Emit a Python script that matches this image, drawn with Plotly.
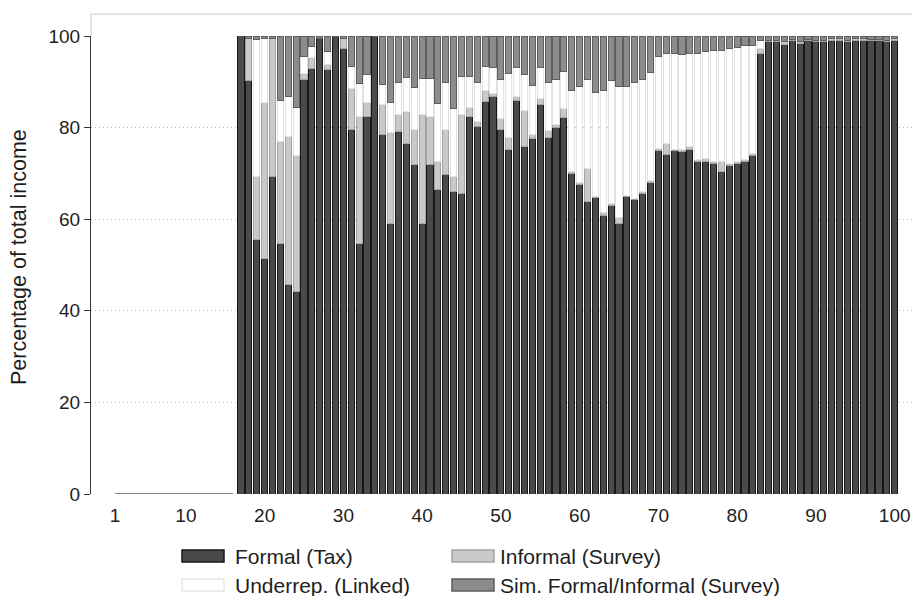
import plotly.graph_objects as go

# Income composition by percentile (share of total income, %)
percentile = list(range(1, 101))

formal = [0.0] * 16 + [
    100.0, 90.2, 55.5, 51.4, 69.3, 54.7, 45.8, 44.2, 90.4, 92.8,
    99.5, 92.6, 99.8, 97.3, 79.5, 54.6, 82.4, 100.0, 78.5, 59.1,
    79.1, 76.6, 72.0, 59.1, 72.0, 66.4, 69.7, 66.0, 65.7, 82.4,
    80.3, 85.7, 86.8, 79.5, 75.3, 86.0, 75.8, 77.7, 85.1, 77.8,
    80.0, 82.2, 70.0, 67.5, 63.8, 64.7, 60.8, 63.1, 59.1, 64.9,
    64.2, 65.7, 68.1, 75.1, 74.2, 74.9, 74.7, 75.3, 72.6, 72.7,
    72.2, 70.4, 71.8, 72.2, 72.7, 74.0, 96.2, 98.8, 98.8, 98.2,
    99.0, 98.4, 99.0, 98.8, 98.8, 99.1, 99.1, 98.8, 99.1, 99.1,
    99.0, 99.0, 98.8, 99.1,
]

informal = [0.0] * 16 + [
    0.0, 9.3, 13.8, 34.1, 30.2, 22.2, 32.2, 29.7, 1.4, 2.5,
    0.0, 1.1, 0.0, 2.2, 9.1, 27.8, 3.1, 0.0, 6.6, 19.9,
    3.7, 6.9, 7.5, 23.7, 10.4, 6.2, 9.8, 3.3, 17.1, 1.9,
    1.1, 2.5, 0.7, 2.4, 2.5, 0.8, 8.0, 0.7, 1.3, 1.5,
    0.6, 2.0, 0.5, 0.6, 7.2, 0.3, 0.7, 0.3, 1.2, 0.3,
    0.3, 0.3, 0.3, 0.3, 2.4, 0.3, 0.5, 0.5, 0.5, 0.6,
    0.3, 2.3, 0.3, 0.3, 0.3, 0.3, 1.1, 0.3, 0.3, 0.7,
    0.3, 0.3, 0.3, 0.3, 0.3, 0.3, 0.3, 0.3, 0.3, 0.3,
    0.3, 0.3, 0.3, 0.3,
]

underrep = [0.0] * 16 + [
    0.0, 0.0, 30.0, 14.0, 0.0, 9.1, 8.8, 10.4, 3.7, 2.4,
    0.0, 2.9, 0.0, 0.0, 4.7, 7.3, 6.0, 0.0, 4.3, 6.5,
    7.1, 7.4, 9.2, 8.0, 8.4, 12.7, 10.3, 14.9, 8.3, 6.8,
    8.5, 5.1, 5.6, 8.7, 14.0, 6.3, 7.8, 10.8, 6.7, 10.6,
    10.0, 8.0, 17.5, 20.8, 19.6, 22.7, 26.5, 26.8, 28.6, 23.7,
    25.4, 24.4, 23.7, 20.1, 19.6, 21.0, 20.8, 20.4, 23.1, 23.3,
    24.3, 24.2, 25.2, 25.0, 24.9, 23.7, 1.8, 0.0, 0.0, 0.0,
    0.0, 0.0, 0.0, 0.0, 0.0, 0.0, 0.0, 0.0, 0.0, 0.0,
    0.0, 0.0, 0.0, 0.0,
]

sim_survey = [0.0] * 16 + [
    0.0, 0.5, 0.7, 0.5, 0.5, 14.0, 13.2, 15.7, 4.5, 2.3,
    0.5, 3.4, 0.2, 0.5, 6.7, 10.3, 8.5, 0.0, 10.6, 14.5,
    10.1, 9.1, 11.3, 9.2, 9.2, 14.7, 10.2, 15.8, 8.9, 8.9,
    10.1, 6.7, 6.9, 9.4, 8.2, 6.9, 8.4, 10.8, 6.9, 10.1,
    9.4, 7.8, 12.0, 11.1, 9.4, 12.3, 12.0, 9.8, 11.1, 11.1,
    10.1, 9.6, 7.9, 4.5, 3.8, 3.8, 4.0, 3.8, 3.8, 3.4,
    3.2, 3.1, 2.7, 2.5, 2.1, 2.0, 0.9, 0.9, 0.9, 1.1,
    0.7, 1.3, 0.7, 0.9, 0.9, 0.6, 0.6, 0.9, 0.6, 0.6,
    0.7, 0.7, 0.9, 0.6,
]

x_ticks = [1, 10, 20, 30, 40, 50, 60, 70, 80, 90, 100]
y_ticks = [0, 20, 40, 60, 80, 100]
y_title = "Percentage of total income"

series = [
    ("Formal (Tax)", formal, "#4a4a4a", "#161616"),
    ("Informal (Survey)", informal, "#c9c9c9", "#a3a3a3"),
    ("Underrep. (Linked)", underrep, "#ffffff", "#e2e2e2"),
    ("Sim. Formal/Informal (Survey)", sim_survey, "#8c8c8c", "#5e5e5e"),
]

FONT = "Liberation Sans, Arial, sans-serif"
TEXT = "#1e1e1e"
W, H = 912, 596
L, R, T, B = 91, 0, 36, 102
X_RANGE = [-2.05, 102.2]

fig = go.Figure()
for name, vals, fill, edge in series:
    fig.add_trace(go.Bar(
        x=percentile, y=vals, name=name, width=0.78,
        marker=dict(color=fill, line=dict(color=edge, width=1)),
        showlegend=False,
    ))

# percentiles with no recorded income sit on the baseline
empty = [p for p, a, b, c, d in zip(percentile, formal, informal, underrep, sim_survey)
         if a + b + c + d == 0]
fig.add_trace(go.Scatter(
    x=empty, y=[0] * len(empty), mode="lines",
    line=dict(color="#8a8a8a", width=2), showlegend=False,
    hoverinfo="skip", cliponaxis=False,
))

plot_w = W - L - R
plot_h = H - T - B


def px_x(px):
    return (px - L) / plot_w


def px_y(py):
    return (H - B - py) / plot_h


shapes = [
    # light frame above the plot region
    dict(type="path", xref="paper", yref="paper",
         path=f"M {px_x(91)},{px_y(36)} L {px_x(91)},{px_y(14)} L {px_x(912)},{px_y(14)}",
         line=dict(color="#dcdcdc", width=1.5)),
]
annotations = [
    dict(xref="paper", yref="paper", x=px_x(19), y=px_y(257), text=y_title,
         showarrow=False, textangle=-90, xanchor="center", yanchor="middle",
         font=dict(family=FONT, size=21.5, color=TEXT)),
]

# legend: two columns, two rows
legend_slots = [
    (182, 556, 233), (452, 556, 498),
    (182, 585, 233), (452, 585, 498),
]
for (sx, sy, tx), (name, _, fill, edge) in zip(legend_slots, series):
    shapes.append(dict(type="rect", xref="paper", yref="paper",
                       x0=px_x(sx), x1=px_x(sx + 42), y0=px_y(sy - 6), y1=px_y(sy + 6),
                       fillcolor=fill,
                       line=dict(color=edge if fill != "#ffffff" else "#e6e6e6", width=1.5)))
    annotations.append(dict(xref="paper", yref="paper", x=px_x(tx), y=px_y(sy),
                            text=name, showarrow=False, xanchor="left", yanchor="middle",
                            font=dict(family=FONT, size=21, color=TEXT)))

fig.update_layout(
    width=W, height=H,
    margin=dict(l=L, r=R, t=T, b=B, pad=0),
    barmode="stack",
    plot_bgcolor="white", paper_bgcolor="white",
    font=dict(family=FONT, size=19, color=TEXT),
    shapes=shapes, annotations=annotations,
    showlegend=False,
    xaxis=dict(
        range=X_RANGE, tickmode="array", tickvals=x_ticks,
        ticks="outside", ticklen=4, tickcolor="rgba(0,0,0,0)",
        showgrid=False, zeroline=False, showline=False,
        tickfont=dict(family=FONT, size=19, color=TEXT),
    ),
    yaxis=dict(
        range=[0, 100], tickmode="array", tickvals=y_ticks,
        ticks="outside", ticklen=6, tickcolor="#333333", tickwidth=1,
        showline=True, linecolor="#333333", linewidth=1,
        showgrid=True, gridcolor="#bdbdbd", griddash="1px,3px", gridwidth=1,
        zeroline=False,
        tickfont=dict(family=FONT, size=19, color=TEXT),
    ),
)

fig.write_html("out.html")
